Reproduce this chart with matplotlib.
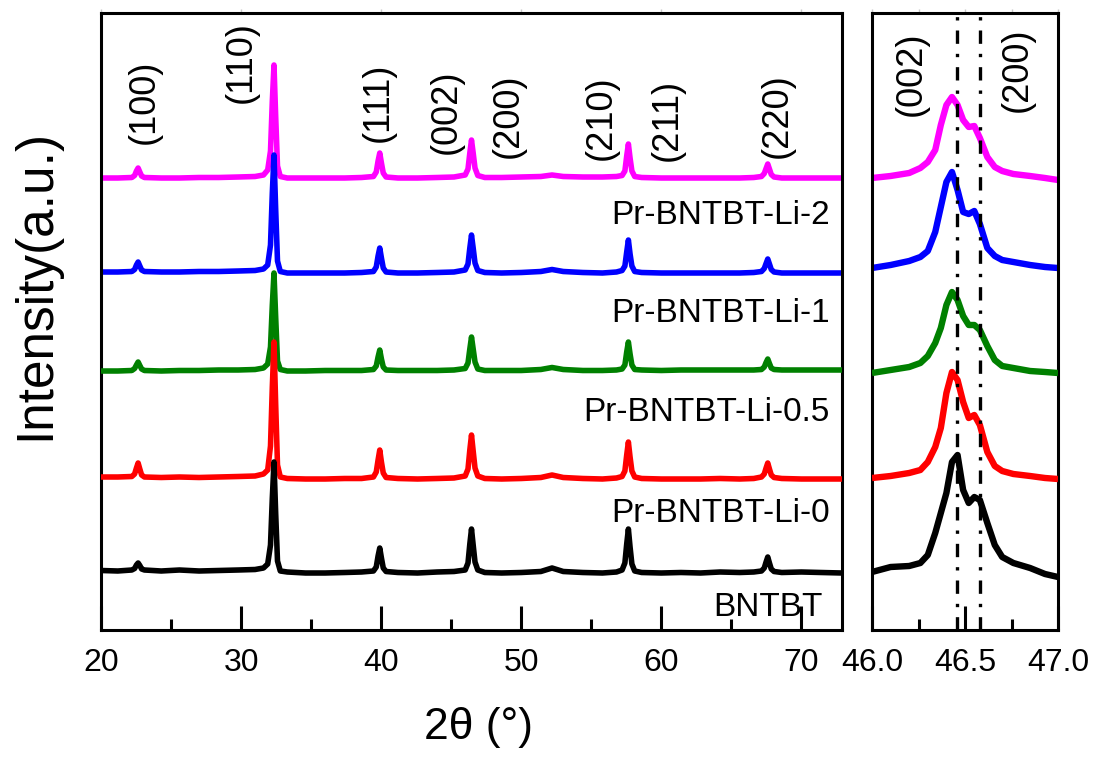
import matplotlib
matplotlib.use("Agg")
import matplotlib.pyplot as plt
from matplotlib.ticker import MultipleLocator, FormatStrFormatter

plt.rcParams['font.family'] = ['Liberation Sans', 'DejaVu Sans']

# ---------------- data (left panel: full pattern) ----------------
two_theta = [20.0, 21.2,
             22.2, 22.4, 22.53, 22.65, 22.77, 22.9, 23.1,
             24.3, 25.6, 27.0, 28.4, 29.8, 31.0, 31.6,
             31.9, 32.1, 32.23, 32.35, 32.47, 32.6, 32.8,
             33.3, 34.6, 36.0, 37.4, 38.6,
             39.45, 39.65, 39.78, 39.9, 40.02, 40.15, 40.35,
             41.2, 42.6, 44.0, 45.2,
             46.0, 46.2, 46.33, 46.45, 46.57, 46.7, 46.9,
             47.4, 48.6, 50.0,
             51.4, 52.2, 53.0,
             54.4, 55.8, 56.8,
             57.2, 57.4, 57.53, 57.65, 57.77, 57.9, 58.1,
             58.6, 60.0, 61.4, 62.8, 64.2, 65.6, 66.6,
             67.15, 67.35, 67.48, 67.6, 67.72, 67.85, 68.05,
             68.6, 70.0, 71.4, 72.9]

series_names = ['BNTBT', 'Pr-BNTBT-Li-0', 'Pr-BNTBT-Li-0.5', 'Pr-BNTBT-Li-1', 'Pr-BNTBT-Li-2']
series_colors = ['#000000', '#FF0000', '#008000', '#0000FF', '#FF00FF']
series_offsets = [57, 151, 259, 357, 452]

int_bntbt = [2.5, 2,
             3, 4.5, 8, 10, 7.5, 4, 3,
             2, 3, 2, 2.5, 3, 3.5, 5,
             9, 28, 75, 111, 60, 12, 2,
             1, 0, 0, 0.5, 1,
             2, 6, 17, 25, 15, 5, 1.5,
             0.5, 0, 1, 1.5,
             3, 10, 29, 44, 28, 11, 3,
             0.5, 0, 0.5,
             1.5, 5, 1.5,
             0.5, 0, 1,
             3, 10, 29, 44, 26, 9, 2,
             0.5, 0, 0.5, 0, 1, 0.5, 1,
             2, 5, 11, 16, 10, 4, 1.5,
             0.5, 1, 0.5, 0]

int_li0 = [2, 2,
           2.5, 5, 11, 16, 10, 4, 2,
           1.5, 2, 1.5, 2, 2.5, 3, 5,
           9, 33, 92, 137, 75, 14, 2,
           0.5, 0, 0, 0.5, 0.5,
           2, 7, 19, 29, 17, 6, 1.5,
           0.5, 0, 0.5, 1,
           3, 10, 29, 44, 28, 11, 3,
           0.5, 0, 0.5,
           1.5, 4, 1.5,
           0.5, 0, 1,
           2.5, 8, 24, 37, 22, 8, 2,
           0.5, 0, 0, 0, 0.5, 0, 0.5,
           2, 5, 11, 16, 10, 4, 1.5,
           0.5, 0, 0, 0]

int_li05 = [0, 0,
            0.5, 2.5, 6, 9, 5.5, 2, 0.5,
            0, 0.5, 0.5, 1, 1, 1.5, 3,
            7, 24, 66, 98, 54, 10, 1.5,
            0, 0, 0.5, 0.5, 0.5,
            1.5, 5, 14, 21, 12, 4, 1,
            0.5, 0.5, 0.5, 1,
            2.5, 8, 22, 34, 22, 9, 2,
            0.5, 0.5, 0.5,
            1.5, 3.5, 1.5,
            0.5, 0.5, 1,
            2, 6, 19, 29, 17, 6, 1.5,
            1, 0.5, 1, 1, 1, 1, 1,
            1.5, 4, 8.5, 12, 7.5, 3, 1.5,
            1, 1, 1, 1]

int_li1 = [1, 1,
           1.5, 3.5, 8, 11, 7, 3, 1.5,
           1, 1, 1.5, 1.5, 2, 2.5, 4,
           8, 28, 80, 118, 64, 12, 1.5,
           0, 0, 0, 0, 0.5,
           1.5, 6, 17, 25, 15, 5, 1,
           0, 0, 0.5, 1,
           3, 9, 25, 38, 25, 10, 2.5,
           0.5, 0, 0.5,
           1.5, 3.5, 1.5,
           0.5, 0, 1,
           2.5, 7, 21, 33, 19, 7, 1.5,
           0.5, 0, 0, 0, 0, 0, 0.5,
           1.5, 4.5, 9.5, 14, 9, 3.5, 1,
           0, 0, 0, 0]

int_li2 = [0, 0,
           0.5, 2.5, 7, 10, 6, 2, 0.5,
           0, 0, 0.5, 0.5, 1, 1.5, 3,
           8, 27, 77, 113, 62, 12, 1.5,
           0, 0, 0, 0, 0.5,
           1.5, 6, 17, 25, 15, 5, 1,
           0, 0, 0.5, 1,
           3, 9, 25, 38, 25, 10, 2.5,
           0.5, 0.5, 1,
           1.5, 3, 1.5,
           1, 1, 1.5,
           2.5, 7, 22, 34, 20, 7, 1.5,
           0.5, 0, 0, 0, 0, 0, 0.5,
           1.5, 4.5, 9.5, 14, 9, 3.5, 1,
           0, 0, 0, 0]

# ---------------- data (right panel: 46-47 deg zoom) ----------------
two_theta_zoom = [46.0, 46.1, 46.2, 46.26, 46.3, 46.34, 46.37, 46.4, 46.43, 46.46,
                  46.49, 46.52, 46.55, 46.58, 46.62, 46.66, 46.7, 46.76, 46.85, 46.93, 47.0]
zoom_bntbt = [1, 6, 7, 10, 18, 40, 60, 80, 111, 118, 83, 70, 76, 73, 50, 28, 16, 10, 5, -1, -4]
zoom_li0 = [1, 3, 6, 9, 17, 32, 51, 86, 107, 99, 77, 61, 64, 54, 27, 13, 8, 5, 3, 1, 0]
zoom_li05 = [-2, 1, 4, 8, 15, 28, 43, 66, 79, 71, 55, 46, 46, 41, 25, 11, 5, 3, 0, -1, -2]
zoom_li1 = [5, 8, 12, 16, 22, 41, 66, 91, 101, 83, 61, 59, 62, 49, 25, 17, 13, 11, 8, 6, 5]
zoom_li2 = [0, 2, 5, 10, 16, 28, 53, 73, 81, 73, 58, 51, 52, 40, 21, 11, 7, 4, 2, 0, -2]

ref_lines = [46.455, 46.58]

peak_labels = ['(100)', '(110)', '(111)', '(002)', '(200)', '(210)', '(211)', '(220)']
peak_label_x = [23.07, 30.0, 39.79, 44.64, 49.07, 55.71, 60.43, 68.29]
peak_label_y = [528, 568, 528, 518, 514, 512, 510, 514]

zoom_labels = ['(002)', '(200)']
zoom_label_x = [46.21, 46.78]
zoom_label_y = [556, 560]

name_label_x = [71.5, 72.0, 72.0, 72.0, 72.0]
name_label_y = [23, 117, 218, 317, 415]

full_sets = [int_bntbt, int_li0, int_li05, int_li1, int_li2]
zoom_sets = [zoom_bntbt, zoom_li0, zoom_li05, zoom_li1, zoom_li2]
for s in full_sets:
    assert len(s) == len(two_theta)
for s in zoom_sets:
    assert len(s) == len(two_theta_zoom)

# ---------------- figure ----------------
fig = plt.figure(figsize=(10.98, 7.63), dpi=100)
ax1 = fig.add_axes([101 / 1098, 133 / 763, 741 / 1098, 617 / 763])
ax2 = fig.add_axes([872 / 1098, 133 / 763, 186 / 1098, 617 / 763])

n = len(series_names)
for i in range(n):
    z = n - i  # top curve drawn first, bottom (black) last
    off = series_offsets[i]
    ax1.plot(two_theta, [off + v for v in full_sets[i]], color=series_colors[i],
             lw=4.0, solid_joinstyle='round', solid_capstyle='round', zorder=z)
    ax2.plot(two_theta_zoom, [off + v for v in zoom_sets[i]], color=series_colors[i],
             lw=4.6, solid_joinstyle='round', solid_capstyle='butt', zorder=z)

for xv in ref_lines:
    ax2.axvline(xv, color='black', lw=2.4, ls=(0, (4, 3, 1, 3)), zorder=10)

for ax in (ax1, ax2):
    ax.set_ylim(0, 617)
    ax.set_yticks([])
    for sp in ax.spines.values():
        sp.set_linewidth(2.2)
    ax.tick_params(axis='x', which='major', direction='in', length=17, width=2.2,
                   labelsize=23, pad=13)
    ax.tick_params(axis='x', which='minor', direction='in', length=8, width=2.2)
    top = ax.secondary_xaxis('top')
    top.tick_params(axis='x', which='both', direction='out', length=3, width=1,
                    color='#c8c8c8', labeltop=False)
    top.spines['top'].set_visible(False)

ax1.set_xlim(20, 72.9)
ax1.xaxis.set_major_locator(MultipleLocator(10))
ax1.xaxis.set_minor_locator(MultipleLocator(5))

ax2.set_xlim(46.0, 47.0)
ax2.xaxis.set_major_locator(MultipleLocator(0.5))
ax2.xaxis.set_minor_locator(MultipleLocator(0.25))
ax2.xaxis.set_major_formatter(FormatStrFormatter('%.1f'))

for lab, x, y in zip(peak_labels, peak_label_x, peak_label_y):
    ax1.text(x, y, lab, rotation=90, ha='center', va='center', fontsize=26)
for lab, x, y in zip(zoom_labels, zoom_label_x, zoom_label_y):
    ax2.text(x, y, lab, rotation=90, ha='center', va='center', fontsize=26)
for lab, x, y in zip(series_names, name_label_x, name_label_y):
    ax1.text(x, y, lab, ha='right', va='center', fontsize=24)

fig.text(478 / 1098, 1 - 728 / 763, '2θ (°)', ha='center', va='center', fontsize=32)
fig.text(36 / 1098, 1 - 285 / 763, 'Intensity(a.u.)', rotation=90, ha='center',
         va='center', fontsize=37)

fig.savefig('out.png', dpi=100)
